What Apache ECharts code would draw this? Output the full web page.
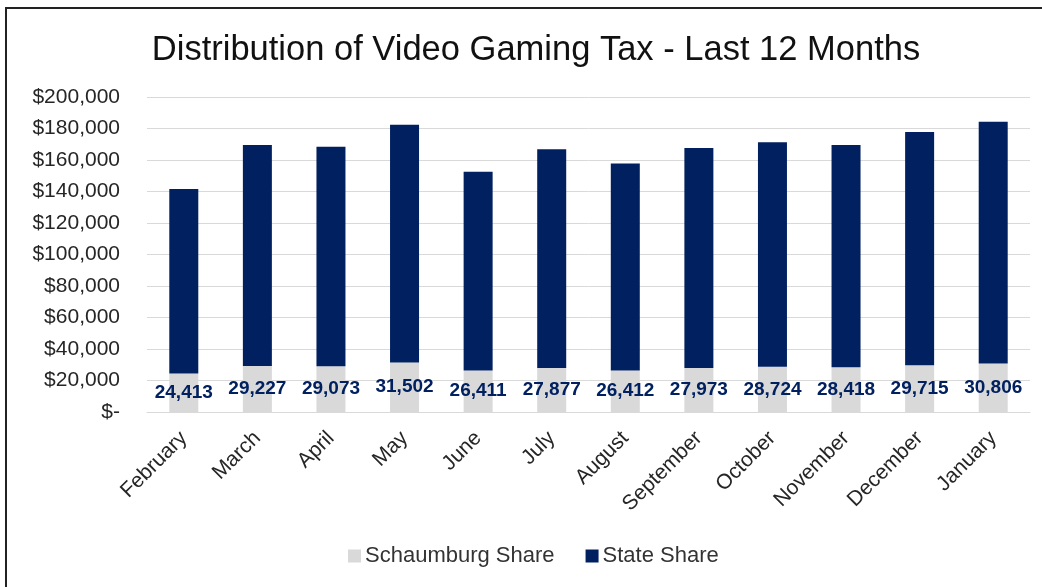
<!DOCTYPE html>
<html>
<head>
<meta charset="utf-8">
<script src="https://cdn.jsdelivr.net/npm/echarts@6/dist/echarts.min.js"></script>
<style>
  html, body { margin: 0; padding: 0; background: #fff; }
  #chart { width: 1042px; height: 587px; }
</style>
</head>
<body>
<div id="chart"></div>
<script>
const months = ['February', 'March', 'April', 'May', 'June', 'July', 'August', 'September', 'October', 'November', 'December', 'January']
const schaumburgShare = [24413, 29227, 29073, 31502, 26411, 27877, 26412, 27973, 28724, 28418, 29715, 30806]
const stateShare = [117200, 140300, 139400, 150900, 126200, 138900, 131300, 139600, 142500, 141100, 148100, 153500]

const font = 'Liberation Sans, Arial, sans-serif'
const chart = echarts.init(document.getElementById('chart'))

function money(v) {
  if (v === 0) return '$-'
  return '$' + v.toLocaleString('en-US')
}

chart.setOption({
  animation: false,
  textStyle: { fontFamily: font },
  title: {
    text: 'Distribution of Video Gaming Tax - Last 12 Months',
    left: 531,
    top: 28,
    textAlign: 'center',
    textStyle: { fontFamily: font, fontSize: 34.5, fontWeight: 'normal', color: '#111' },
  },
  graphic: [
    {
      type: 'rect',
      shape: { x: 6, y: 8, width: 1200, height: 800 },
      style: { fill: 'none', stroke: '#222', lineWidth: 2 },
      silent: true,
    },
  ],
  legend: {
    top: 540,
    left: 343,
    itemWidth: 13,
    itemHeight: 13,
    itemGap: 31,
    icon: 'rect',
    textStyle: { fontFamily: font, fontSize: 22, color: '#333', padding: [0, 0, 0, -1] },
    data: ['Schaumburg Share', 'State Share'],
  },
  grid: {
    left: 147,
    right: 12,
    top: 97,
    bottom: 175,
  },
  xAxis: {
    type: 'category',
    data: months,
    axisTick: { show: false },
    axisLine: { show: true, lineStyle: { color: '#d9d9d9' } },
    axisLabel: {
      rotate: 45,
      interval: 0,
      margin: 23,
      fontFamily: font,
      fontSize: 21,
      color: '#262626',
    },
  },
  yAxis: {
    type: 'value',
    min: 0,
    max: 200000,
    interval: 20000,
    axisLine: { show: false },
    axisTick: { show: false },
    splitLine: { lineStyle: { color: '#d9d9d9' } },
    axisLabel: {
      margin: 27,
      fontFamily: font,
      fontSize: 21,
      color: '#262626',
      formatter: money,
    },
  },
  series: [
    {
      name: 'Schaumburg Share',
      type: 'bar',
      stack: 'tax',
      barWidth: 29,
      itemStyle: { color: '#d9d9d9' },
      label: {
        show: true,
        position: 'inside',
        fontFamily: font,
        fontSize: 19,
        fontWeight: 'bold',
        color: '#002060',
        formatter: p => p.value.toLocaleString('en-US'),
      },
      data: schaumburgShare,
    },
    {
      name: 'State Share',
      type: 'bar',
      stack: 'tax',
      barWidth: 29,
      itemStyle: { color: '#002060' },
      data: stateShare,
    },
  ],
})
</script>
</body>
</html>
